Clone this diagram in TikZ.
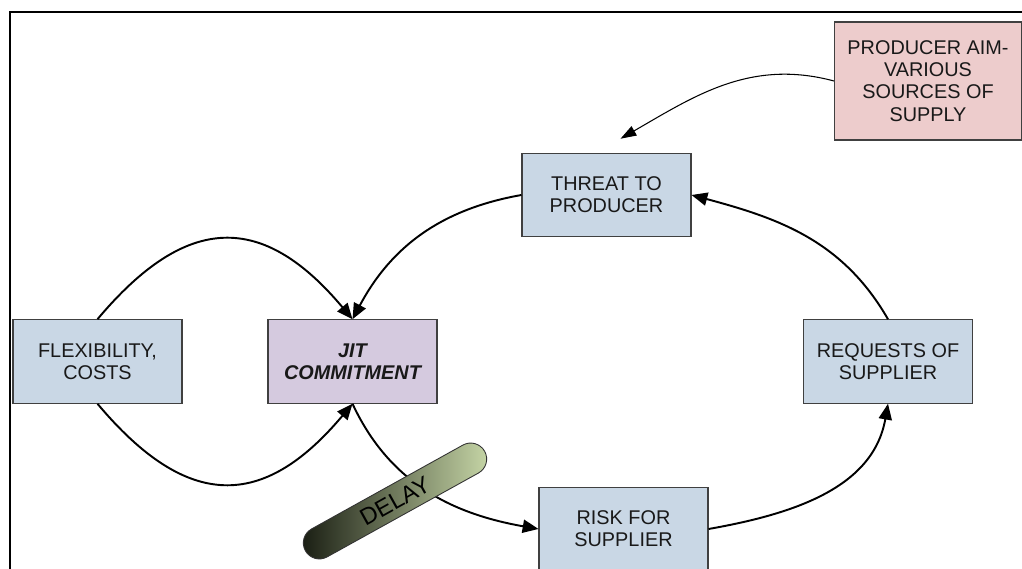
\documentclass[tikz,border=0pt]{standalone}
\usepackage{fontspec}
\setmainfont{Liberation Sans}
\usepackage{tikz}
\usetikzlibrary{arrows.meta, shapes.geometric, positioning}
\usepackage{xcolor}
\definecolor{boxblue}{HTML}{C9D7E5}
\definecolor{boxjit}{HTML}{D5CADF}
\definecolor{boxaim}{HTML}{EDCCCC}
\definecolor{delaylight}{HTML}{C9D9A9}
\definecolor{delaymid}{HTML}{8E9C6C}
\definecolor{delaydark}{HTML}{161A10}

\begin{document}
\begin{tikzpicture}[node distance=5.1cm,
    box/.style={draw=black!75, line width=0.6pt, rectangle, align=center,
        minimum width=3.38cm, minimum height=1.67cm, text=black!90,
        font=\fontsize{11.3}{12.6}\selectfont},
    link/.style={line width=1.1pt, -{Triangle[length=9pt, width=7.5pt]}},
    thinlink/.style={line width=0.6pt, -{Triangle[length=9pt, width=6pt]}},
    delaybar/.style={draw=black!80, line width=0.5pt, rounded corners=0.32cm,
        minimum width=4.1cm, minimum height=0.64cm, rotate=29,
        left color=delaydark, middle color=delaymid, right color=delaylight,
        font=\fontsize{13.5}{15}\selectfont}]
            \useasboundingbox (0,0) rectangle (20.44,11.38);
            \clip (0,0) rectangle (20.44,11.38);
            % Frame
            \draw[line width=1.2pt] (0.2,0) -- (0.2,11.14) -- (20.44,11.14);
            % Nodes
            \node[box, fill=boxblue] (flex) at (1.95,4.15) {FLEXIBILITY,\\COSTS};
            \node[box, fill=boxjit, right of=flex,
                font=\fontsize{11.3}{12.6}\selectfont\bfseries\itshape] (jit) {JIT\\COMMITMENT};
            \node[box, fill=boxblue] (req) at (17.76,4.15) {REQUESTS OF\\SUPPLIER};
            \node[box, fill=boxblue] (threat) at (12.13,7.48) {THREAT TO\\PRODUCER};
            \node[box, fill=boxblue] (risk) at (12.47,0.80) {RISK FOR\\SUPPLIER};
            \node[box, fill=boxaim, minimum width=3.74cm, minimum height=2.36cm] (aim) at (18.56,9.76)
                {PRODUCER AIM-\\VARIOUS\\SOURCES OF\\SUPPLY};
            \coordinate (aimtip) at ([xshift=0.28cm, yshift=0.28cm]threat.north);
            % Arrows
            \draw[thinlink] (aim.west) to[out=165, in=30] (aimtip);
            \draw[link] (threat.west) to[out=190, in=62] (jit.north);
            \draw[link] (flex.north) to[out=50, in=130, looseness=1.4] (jit.north);
            \draw[link] (flex.south) to[out=-50, in=-130, looseness=1.4] (jit.south);
            \draw[link] (jit.south) to[out=-65, in=170] (risk.west);
            \draw[link] (risk.east) to[out=10, in=-100] (req.south);
            \draw[link] (req.north) to[out=120, in=-15] (threat.east);
            % Delay
            \node[delaybar] (delay) at (7.90,1.36) {DELAY};
        \end{tikzpicture}
\end{document}
